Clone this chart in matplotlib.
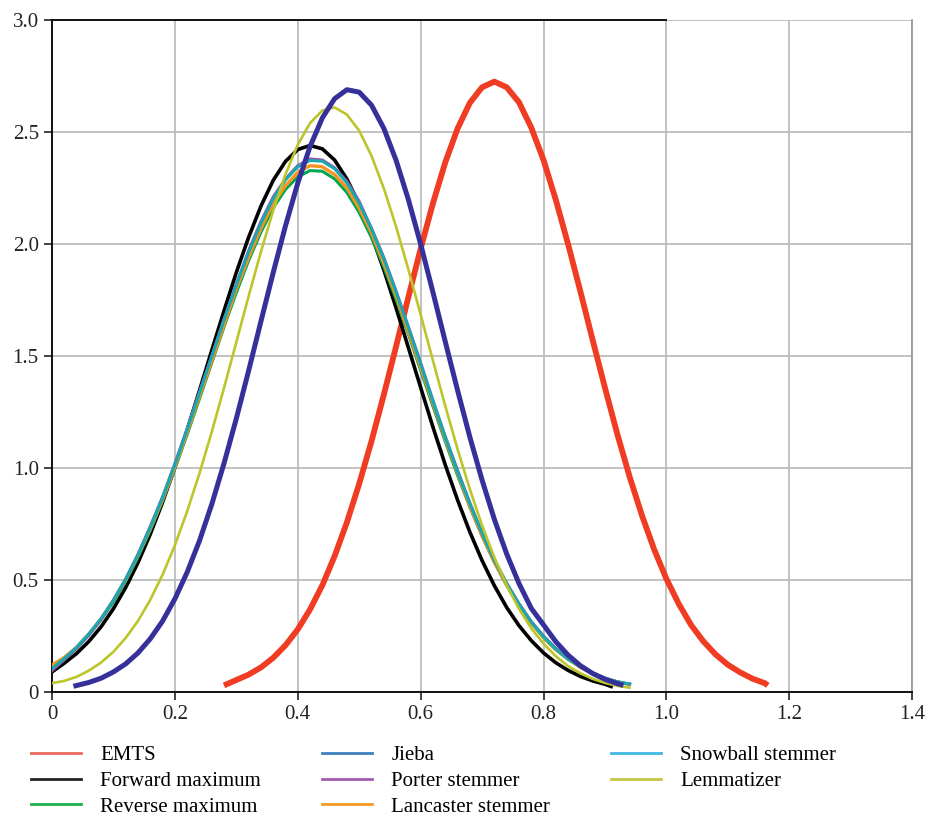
import matplotlib
matplotlib.use('Agg')
import matplotlib.pyplot as plt
from matplotlib.lines import Line2D

plt.rcParams['font.family'] = ['Liberation Serif', 'DejaVu Serif']

# values, step 0.02
x_emts = [0.28, 0.30, 0.32, 0.34, 0.36, 0.38, 0.40, 0.42, 0.44, 0.46, 0.48, 0.50,
          0.52, 0.54, 0.56, 0.58, 0.60, 0.62, 0.64, 0.66, 0.68, 0.70, 0.72, 0.74,
          0.76, 0.78, 0.80, 0.82, 0.84, 0.86, 0.88, 0.90, 0.92, 0.94, 0.96, 0.98,
          1.00, 1.02, 1.04, 1.06, 1.08, 1.10, 1.12, 1.14, 1.16, 1.165]
emts = [0.03, 0.054, 0.078, 0.11, 0.153, 0.209, 0.28, 0.369, 0.477, 0.607, 0.758, 0.93,
        1.12, 1.327, 1.543, 1.763, 1.979, 2.182, 2.364, 2.515, 2.63, 2.70, 2.725, 2.70,
        2.633, 2.52, 2.375, 2.197, 1.999, 1.788, 1.571, 1.358, 1.152, 0.962, 0.79, 0.637,
        0.505, 0.394, 0.30, 0.227, 0.168, 0.122, 0.088, 0.06, 0.04, 0.03]

x_jieba = [0.035, 0.06, 0.08, 0.10, 0.12, 0.14, 0.16, 0.18, 0.20, 0.22, 0.24, 0.26,
           0.28, 0.30, 0.32, 0.34, 0.36, 0.38, 0.40, 0.42, 0.44, 0.46, 0.48, 0.50,
           0.52, 0.54, 0.56, 0.58, 0.60, 0.62, 0.64, 0.66, 0.68, 0.70, 0.72, 0.74,
           0.76, 0.78, 0.80, 0.82, 0.84, 0.86, 0.88, 0.90, 0.92, 0.93]
jieba = [0.026, 0.043, 0.062, 0.09, 0.126, 0.175, 0.238, 0.317, 0.416, 0.535, 0.675, 0.838,
         1.021, 1.221, 1.434, 1.654, 1.872, 2.081, 2.272, 2.435, 2.563, 2.649, 2.689, 2.678,
         2.62, 2.517, 2.374, 2.199, 2.00, 1.785, 1.565, 1.348, 1.139, 0.946, 0.771, 0.617,
         0.485, 0.374, 0.30, 0.225, 0.165, 0.118, 0.083, 0.057, 0.038, 0.03]

x_fwd = [0.00, 0.02, 0.04, 0.06, 0.08, 0.10, 0.12, 0.14, 0.16, 0.18, 0.20, 0.22,
         0.24, 0.26, 0.28, 0.30, 0.32, 0.34, 0.36, 0.38, 0.40, 0.42, 0.44, 0.46,
         0.48, 0.50, 0.52, 0.54, 0.56, 0.58, 0.60, 0.62, 0.64, 0.66, 0.68, 0.70,
         0.72, 0.74, 0.76, 0.78, 0.80, 0.82, 0.84, 0.86, 0.88, 0.90, 0.91]
forward = [0.09, 0.129, 0.172, 0.226, 0.292, 0.372, 0.467, 0.578, 0.705, 0.847, 1.003, 1.17,
           1.346, 1.525, 1.702, 1.873, 2.03, 2.169, 2.284, 2.369, 2.422, 2.44, 2.425, 2.375,
           2.29, 2.178, 2.04, 1.885, 1.715, 1.538, 1.36, 1.183, 1.015, 0.858, 0.715, 0.587,
           0.475, 0.378, 0.297, 0.23, 0.175, 0.131, 0.097, 0.07, 0.05, 0.035, 0.025]

# the stemmer curves and the lemmatizer share one x grid
x_grid = [0.00, 0.02, 0.04, 0.06, 0.08, 0.10, 0.12, 0.14, 0.16, 0.18, 0.20, 0.22,
          0.24, 0.26, 0.28, 0.30, 0.32, 0.34, 0.36, 0.38, 0.40, 0.42, 0.44, 0.46,
          0.48, 0.50, 0.52, 0.54, 0.56, 0.58, 0.60, 0.62, 0.64, 0.66, 0.68, 0.70,
          0.72, 0.74, 0.76, 0.78, 0.80, 0.82, 0.84, 0.86, 0.88, 0.90, 0.92, 0.94]
reverse = [0.10, 0.145, 0.195, 0.255, 0.323, 0.402, 0.495, 0.602, 0.722, 0.854, 0.997, 1.15,
           1.309, 1.47, 1.63, 1.783, 1.926, 2.053, 2.161, 2.244, 2.30, 2.328, 2.325, 2.291,
           2.23, 2.141, 2.029, 1.898, 1.753, 1.598, 1.437, 1.276, 1.119, 0.968, 0.826, 0.696,
           0.579, 0.476, 0.386, 0.308, 0.243, 0.189, 0.146, 0.111, 0.083, 0.061, 0.045, 0.035]
porter = [0.095, 0.145, 0.195, 0.255, 0.325, 0.41, 0.505, 0.615, 0.74, 0.87, 1.02, 1.175,
          1.34, 1.50, 1.665, 1.82, 1.97, 2.10, 2.21, 2.29, 2.35, 2.38, 2.375, 2.34,
          2.28, 2.19, 2.07, 1.94, 1.79, 1.63, 1.47, 1.30, 1.14, 0.99, 0.845, 0.71,
          0.59, 0.485, 0.395, 0.315, 0.25, 0.195, 0.15, 0.115, 0.085, 0.062, 0.046, 0.036]
lancaster = [0.12, 0.155, 0.20, 0.26, 0.325, 0.41, 0.50, 0.61, 0.73, 0.86, 1.005, 1.16,
             1.32, 1.48, 1.64, 1.80, 1.94, 2.07, 2.18, 2.26, 2.32, 2.35, 2.345, 2.31,
             2.25, 2.16, 2.05, 1.915, 1.77, 1.61, 1.45, 1.29, 1.13, 0.98, 0.83, 0.70,
             0.58, 0.48, 0.39, 0.31, 0.245, 0.19, 0.15, 0.11, 0.084, 0.062, 0.045, 0.035]
snowball = [0.105, 0.15, 0.20, 0.26, 0.329, 0.41, 0.504, 0.613, 0.736, 0.87, 1.016, 1.172,
            1.334, 1.498, 1.661, 1.818, 1.963, 2.093, 2.202, 2.287, 2.345, 2.373, 2.37, 2.336,
            2.273, 2.182, 2.068, 1.935, 1.787, 1.629, 1.465, 1.301, 1.14, 0.986, 0.842, 0.71,
            0.59, 0.485, 0.393, 0.314, 0.248, 0.193, 0.149, 0.113, 0.085, 0.062, 0.046, 0.036]
lemma = [0.04, 0.05, 0.068, 0.096, 0.132, 0.18, 0.242, 0.318, 0.412, 0.524, 0.655, 0.807,
         0.976, 1.161, 1.358, 1.562, 1.767, 1.965, 2.149, 2.311, 2.443, 2.54, 2.596, 2.61,
         2.578, 2.506, 2.394, 2.249, 2.078, 1.887, 1.685, 1.48, 1.278, 1.085, 0.906, 0.744,
         0.601, 0.477, 0.372, 0.285, 0.216, 0.16, 0.116, 0.084, 0.059, 0.041, 0.028, 0.02]

labels = ['EMTS', 'Forward maximum', 'Reverse maximum', 'Jieba', 'Porter stemmer',
          'Lancaster stemmer', 'Snowball stemmer', 'Lemmatizer']
legend_colors = ['#ea6b5e', '#222222', '#1db04c', '#3d7fbf', '#a45cb0',
                 '#f59a23', '#41b8e4', '#c6c64a']

fig = plt.figure(figsize=(9.28, 8.21), dpi=100)
ax = fig.add_axes([0.056, 0.157, 0.927, 0.8186])

ax.plot(x_emts, emts, color='#f03c22', lw=4.2, zorder=3, solid_capstyle='butt')
ax.plot(x_fwd, forward, color='#000000', lw=2.6, zorder=4)
ax.plot(x_grid, reverse, color='#00a651', lw=2.2, zorder=5)
ax.plot(x_grid, lancaster, color='#f7941d', lw=2.4, zorder=5)
ax.plot(x_grid, porter, color='#9b4fa8', lw=2.2, zorder=5)
ax.plot(x_grid, snowball, color='#1aa8b0', lw=2.2, zorder=5)
ax.plot(x_grid, lemma, color='#bcc52a', lw=1.9, zorder=6)
ax.plot(x_jieba, jieba, color='#35309a', lw=3.6, zorder=7, solid_capstyle='butt')

ax.set_xlim(0, 1.4)
ax.set_ylim(0, 3.0)
ax.set_xticks([0, 0.2, 0.4, 0.6, 0.8, 1.0, 1.2, 1.4])
ax.set_xticklabels(['0', '0.2', '0.4', '0.6', '0.8', '1.0', '1.2', '1.4'])
ax.set_yticks([0, 0.5, 1.0, 1.5, 2.0, 2.5, 3.0])
ax.set_yticklabels(['0', '0.5', '1.0', '1.5', '2.0', '2.5', '3.0'])
ax.tick_params(direction='out', length=6, width=1.2, labelsize=15, colors='#222222')
ax.grid(True, color='#bdbdbd', lw=1.3, zorder=0)
ax.set_axisbelow(True)

for s in ['left', 'bottom']:
    ax.spines[s].set_color('#111111')
    ax.spines[s].set_linewidth(1.4)
ax.spines['top'].set_color('#111111')
ax.spines['top'].set_linewidth(1.4)
ax.spines['top'].set_bounds(0, 1.0)
ax.spines['right'].set_color('#9a9a9a')
ax.spines['right'].set_linewidth(1.3)

handles = [Line2D([], [], color=c, lw=2) for c in legend_colors]
fig.legend(handles, labels, ncol=3, loc='upper left', bbox_to_anchor=(0.033, 0.092),
           frameon=False, fontsize=15, handlelength=2.4, handletextpad=0.95,
           columnspacing=2.9, labelspacing=0.3, borderaxespad=0, borderpad=0)

fig.savefig('out.png', dpi=100)
